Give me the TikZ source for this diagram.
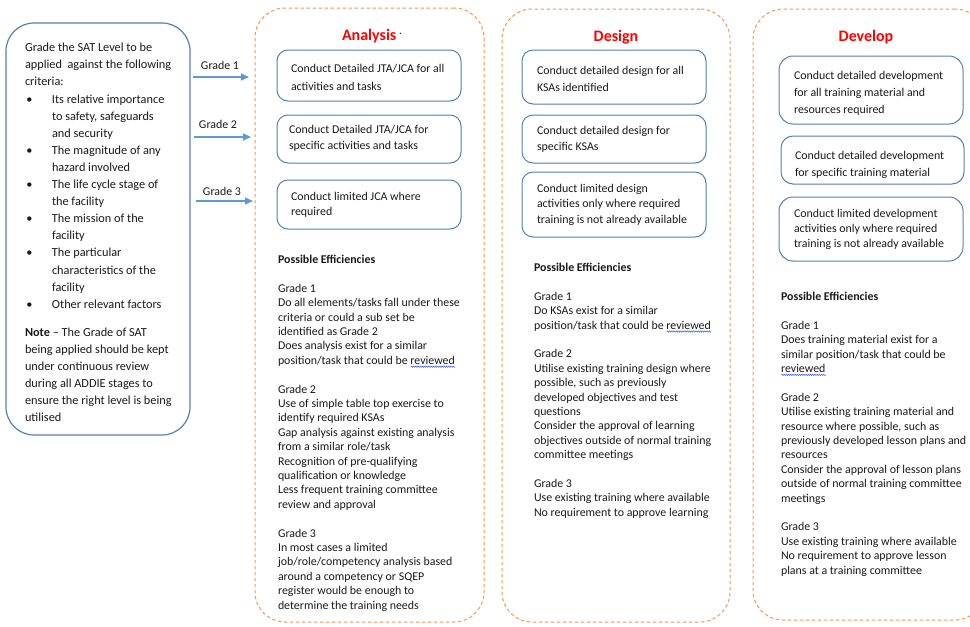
\documentclass[tikz,border=0pt]{standalone}
\usepackage{fontspec}
\setmainfont{Carlito}
\usetikzlibrary{arrows.meta,decorations.pathmorphing}
\definecolor{boxblue}{RGB}{84,128,176}
\definecolor{arrowblue}{RGB}{91,155,213}
\definecolor{dashorange}{RGB}{242,150,88}
\definecolor{titlered}{RGB}{255,0,0}
\definecolor{txt}{RGB}{25,25,25}
\definecolor{wavyblue}{RGB}{60,90,230}
\newsavebox{\wavebox}
\newcommand{\spellwave}[1]{\sbox{\wavebox}{#1}\rlap{\tikz[baseline=0pt,x=1pt,y=1pt]\draw[wavyblue,line width=0.5pt,decorate,decoration={snake,amplitude=0.7pt,segment length=2.2pt}] (0,-2.4) -- (\the\wd\wavebox,-2.4);}\usebox{\wavebox}}
\newcommand{\bul}{\makebox[27pt][l]{\hspace{1.5pt}\textbullet}}
\newcommand{\ind}{\hspace*{27pt}}
\begin{document}
\begin{tikzpicture}[x=1pt,y=-1pt,
  every node/.style={inner sep=0pt, outer sep=0pt, text=txt},
  body/.style={font=\fontsize{11.9}{14.4}\selectfont, align=left, anchor=north west},
  boxtext/.style={font=\fontsize{11.9}{16.5}\selectfont, align=left, anchor=north west},
  column/.style={draw=dashorange, line width=1pt, dash pattern=on 3.5pt off 2.5pt, rounded corners=30pt},
  taskbox/.style={draw=boxblue, line width=1pt, rounded corners=11pt, minimum width=184pt},
  critbox/.style={draw=boxblue, line width=1.2pt, rounded corners=28pt},
  title/.style={font=\fontsize{16}{18}\selectfont\bfseries, text=titlered},
  gradelabel/.style={font=\fontsize{11.9}{13}\selectfont},
  gradearrow/.style={draw=arrowblue, line width=1.3pt, -{Triangle[length=8pt,width=7pt]}}
]
\clip (0,0) rectangle (970,627);

% criteria box
\node[critbox, minimum width=184pt, minimum height=412pt] (crit) at (98,229) {};
\node[font=\fontsize{12.3}{17.1}\selectfont, align=left, anchor=north west] (crittext) at (25,43.2) {%
Grade the SAT Level to be\\
applied\ \ against the following\\
criteria:\\
\bul Its relative importance\\
\ind to safety, safeguards\\
\ind and security\\
\bul The magnitude of any\\
\ind hazard involved\\
\bul The life cycle stage of\\
\ind the facility\\
\bul The mission of the\\
\ind facility\\
\bul The particular\\
\ind characteristics of the\\
\ind facility\\
\bul Other relevant factors\\[11pt]
\textbf{Note} -- The Grade of SAT\\
being applied should be kept\\
under continuous review\\
during all ADDIE stages to\\
ensure the right level is being\\
utilised};

% columns
\node[column, minimum width=229pt, minimum height=614pt] (anacol) at (369.5,315) {};
\node[column, minimum width=228pt, minimum height=613pt] (descol) at (616,315.5) {};
\node[column, minimum width=232pt, minimum height=611pt] (devcol) at (869,314.5) {};

% titles
\node[title, anchor=west] (anatitle) at (342,36) {Analysis\hspace{3pt}\raisebox{6pt}{\fontsize{9}{9}\selectfont\color{txt}.}};
\node[title] (destitle) at (616,37) {Design};
\node[title] (devtitle) at (866,37) {Develop};

% analysis boxes
\node[taskbox, minimum height=51pt] (a1) at (369,75.5) {};
\node[taskbox, minimum height=48pt] (a2) at (369,139) {};
\node[taskbox, minimum height=49pt] (a3) at (369,204.5) {};
\node[boxtext, font=\fontsize{11.9}{18}\selectfont] (a1t) at (291,64.1) {Conduct Detailed JTA/JCA for all\\activities and tasks};
\node[boxtext, font=\fontsize{11.9}{16}\selectfont] (a2t) at (289,125.1) {Conduct Detailed JTA/JCA for\\specific activities and tasks};
\node[boxtext, font=\fontsize{11.9}{15.5}\selectfont] (a3t) at (291,192.1) {Conduct limited JCA where\\required};

% design boxes
\node[taskbox, minimum height=54pt] (d1) at (614,77) {};
\node[taskbox, minimum height=48pt] (d2) at (614,139) {};
\node[taskbox, minimum height=65pt] (d3) at (614,204.5) {};
\node[boxtext, font=\fontsize{11.9}{17}\selectfont] (d1t) at (537,66.1) {Conduct detailed design for all\\KSAs identified};
\node[boxtext, font=\fontsize{11.9}{16}\selectfont] (d2t) at (537,126.1) {Conduct detailed design for\\specific KSAs};
\node[boxtext, font=\fontsize{11.9}{15.5}\selectfont] (d3t) at (537,184.1) {Conduct limited design\\activities only where required\\training is not already available};

% develop boxes
\node[taskbox, rounded corners=14pt, minimum height=68pt] (v1) at (871,90) {};
\node[taskbox, rounded corners=12pt, minimum width=183pt, minimum height=48pt] (v2) at (872.5,160) {};
\node[taskbox, rounded corners=14pt, minimum height=64pt] (v3) at (871,229) {};
\node[boxtext, font=\fontsize{11.9}{17}\selectfont] (v1t) at (794,71.1) {Conduct detailed development\\for all training material and\\resources required};
\node[boxtext, font=\fontsize{11.9}{17}\selectfont] (v2t) at (795,151.1) {Conduct detailed development\\for specific training material};
\node[boxtext, font=\fontsize{11.9}{15}\selectfont] (v3t) at (794,209.1) {Conduct limited development\\activities only where required\\training is not already available};

% efficiencies
\node[body] (anaeff) at (278,255.1) {%
\textbf{Possible Efficiencies}\\[14.4pt]
Grade 1\\
Do all elements/tasks fall under these\\
criteria or could a sub set be\\
identified as Grade 2\\
Does analysis exist for a similar\\
position/task that could be \spellwave{reviewed}\\[14.4pt]
Grade 2\\
Use of simple table top exercise to\\
identify required KSAs\\
Gap analysis against existing analysis\\
from a similar role/task\\
Recognition of pre-qualifying\\
qualification or knowledge\\
Less frequent training committee\\
review and approval\\[14.4pt]
Grade 3\\
In most cases a limited\\
job/role/competency analysis based\\
around a competency or SQEP\\
register would be enough to\\
determine the training needs};

\node[body] (deseff) at (534,263.1) {%
\textbf{Possible Efficiencies}\\[14.4pt]
Grade 1\\
Do KSAs exist for a similar\\
position/task that could be \spellwave{reviewed}\\[14.4pt]
Grade 2\\
Utilise existing training design where\\
possible, such as previously\\
developed objectives and test\\
questions\\
Consider the approval of learning\\
objectives outside of normal training\\
committee meetings\\[14.4pt]
Grade 3\\
Use existing training where available\\
No requirement to approve learning};

\node[body] (deveff) at (781,292.1) {%
\textbf{Possible Efficiencies}\\[14.4pt]
Grade 1\\
Does training material exist for a\\
similar position/task that could be\\
\spellwave{reviewed}\\[14.4pt]
Grade 2\\
Utilise existing training material and\\
resource where possible, such as\\
previously developed lesson plans and\\
resources\\
Consider the approval of lesson plans\\
outside of normal training committee\\
meetings\\[14.4pt]
Grade 3\\
Use existing training where available\\
No requirement to approve lesson\\
plans at a training committee};

% grade arrows
\coordinate (g1s) at (193,77);
\coordinate (g1e) at (249,77);
\coordinate (g2s) at (194,137);
\coordinate (g2e) at (251,137);
\coordinate (g3s) at (196,201);
\coordinate (g3e) at (253,201);
\draw[gradearrow] (g1s) -- (g1e);
\draw[gradearrow] (g2s) -- (g2e);
\draw[gradearrow] (g3s) -- (g3e);
\node[gradelabel] (g1l) at (220,65) {Grade 1};
\node[gradelabel] (g2l) at (218,124) {Grade 2};
\node[gradelabel] (g3l) at (222,191) {Grade 3};
\end{tikzpicture}
\end{document}
